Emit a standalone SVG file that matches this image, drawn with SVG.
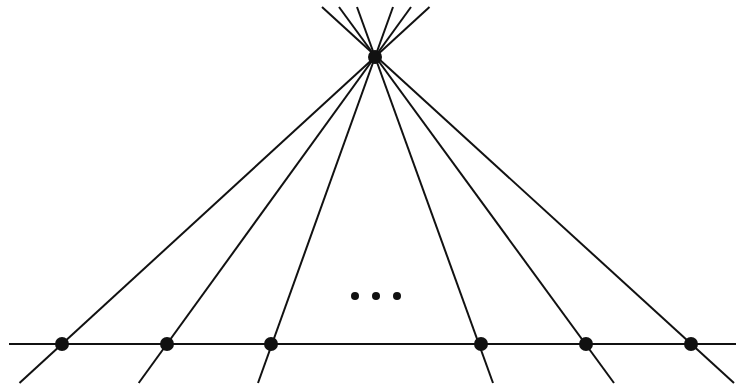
<svg xmlns="http://www.w3.org/2000/svg" width="736" height="388" viewBox="0 0 736 388">
<style>
.ln{stroke:#111;stroke-width:2;fill:none;stroke-linecap:butt}
.nd{fill:#111}
</style>
<rect width="736" height="388" fill="#fff"/>
<g id="connectors">
<line class="ln" x1="9" y1="344" x2="736" y2="344"/>
<line class="ln" x1="429.5" y1="7" x2="19.5" y2="383"/>
<line class="ln" x1="411" y1="7" x2="138.7" y2="383"/>
<line class="ln" x1="393" y1="7" x2="258" y2="383"/>
<line class="ln" x1="357" y1="7" x2="493" y2="383"/>
<line class="ln" x1="339" y1="7" x2="614" y2="383"/>
<line class="ln" x1="322" y1="7" x2="734" y2="383"/>
</g>
<g id="apex"><circle class="nd" cx="375" cy="57" r="7"/></g>
<g id="p1"><circle class="nd" cx="62" cy="344" r="7"/></g>
<g id="p2"><circle class="nd" cx="167" cy="344" r="7"/></g>
<g id="p3"><circle class="nd" cx="271" cy="344" r="7"/></g>
<g id="p4"><circle class="nd" cx="481" cy="344" r="7"/></g>
<g id="p5"><circle class="nd" cx="586" cy="344" r="7"/></g>
<g id="p6"><circle class="nd" cx="691" cy="344" r="7"/></g>
<g id="ellipsis">
<circle class="nd" cx="355" cy="296" r="4"/>
<circle class="nd" cx="376" cy="296" r="4"/>
<circle class="nd" cx="397" cy="296" r="4"/>
</g>
</svg>
